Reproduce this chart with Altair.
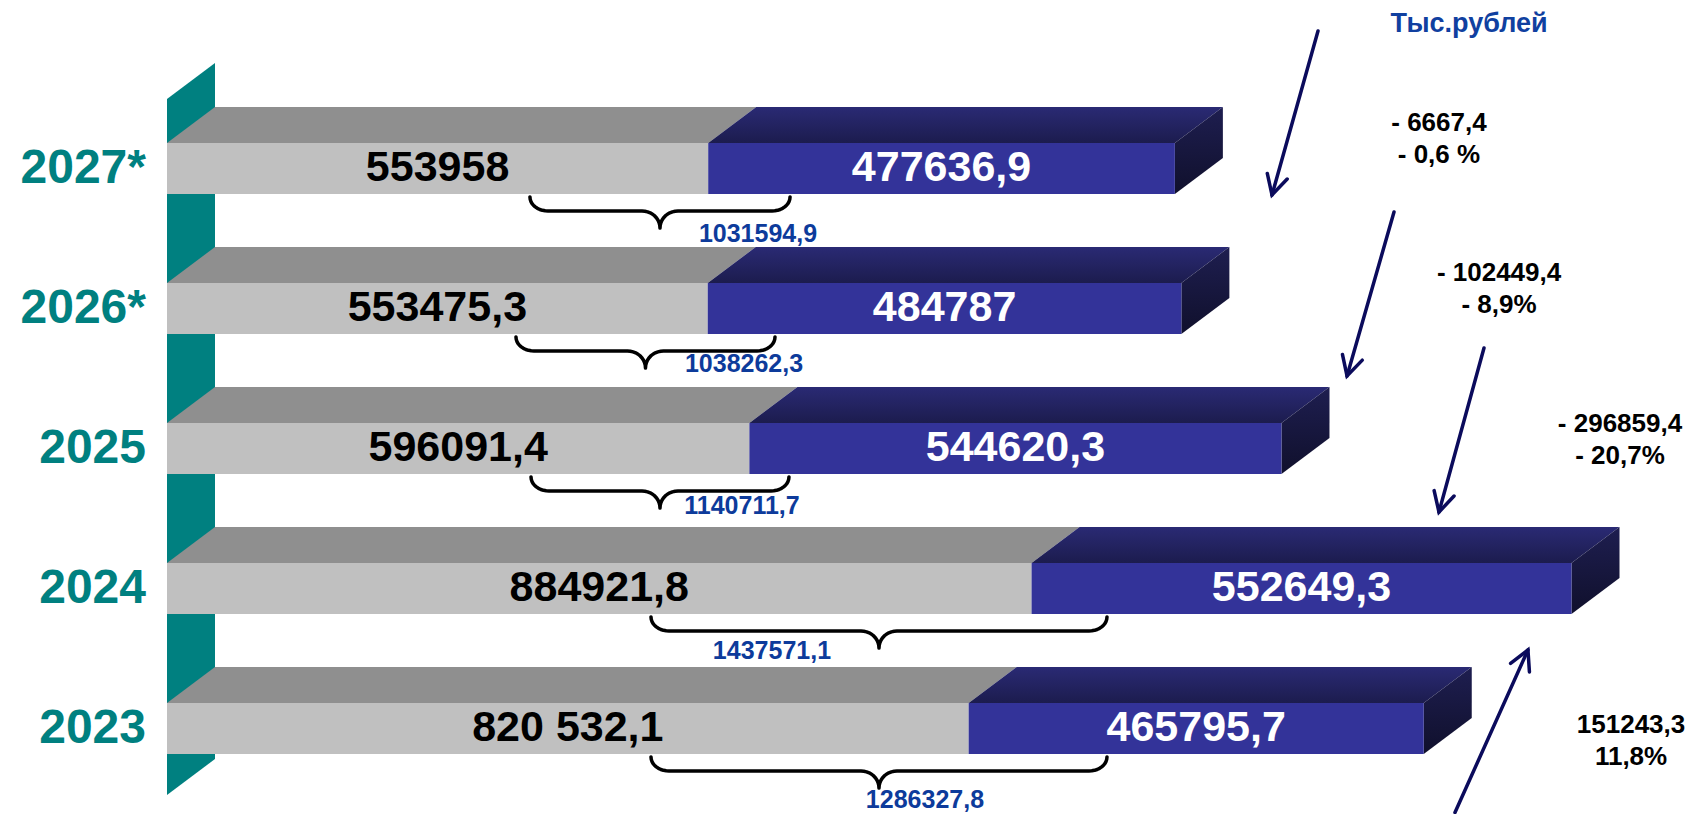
import math
import altair as alt
import pandas as pd

# ---------------- data ----------------
YEARS = ["2027*", "2026*", "2025", "2024", "2023"]
GRAY_VALUES = [553958.0, 553475.3, 596091.4, 884921.8, 820532.1]
BLUE_VALUES = [477636.9, 484787.0, 544620.3, 552649.3, 465795.7]
GRAY_LABELS = ["553958", "553475,3", "596091,4", "884921,8", "820 532,1"]
BLUE_LABELS = ["477636,9", "484787", "544620,3", "552649,3", "465795,7"]
TOTAL_LABELS = ["1031594,9", "1038262,3", "1140711,7", "1437571,1", "1286327,8"]
CHANGE_LABELS = ["- 6667,4\n- 0,6 %", "- 102449,4\n- 8,9%", "- 296859,4\n- 20,7%", "151243,3\n11,8%"]
UNIT_LABEL = "Тыс.рублей"

# annotation anchors (x in value units, y in row units)
BRACE_START = [371500, 357200, 372600, 495400, 495400]
BRACE_END = [637700, 622300, 636600, 962100, 962100]
TOTAL_X = [604900, 590600, 588500, 619200, 775800]
TOTAL_DY = [0.471, 0.396, 0.411, 0.446, 0.510]      # below each row centre
CHANGE_X = [1301900, 1363400, 1487200, 1498500]
CHANGE_Y = [-0.268, 0.804, 1.882, 4.032]
ARROW_FROM_X = [1178100, 1255900, 1348000, 1318300]
ARROW_FROM_Y = [-0.982, 0.311, 1.282, 4.600]
ARROW_TO_X = [1131000, 1207800, 1301900, 1393000]
ARROW_TO_Y = [0.189, 1.482, 2.454, 3.439]
UNIT_X, UNIT_Y = 1332700, -0.975
YEAR_X = -21500

# ---------------- geometry ----------------
K = 0.000977            # px per value unit
PLOT_W, PLOT_H = 1678, 806
X0_PX = 159.0           # plot x of value 0
ROW0_PX = 160.5         # plot y of first row centre
ROW_PX = 140.0          # row pitch
HALF = 25.5 / ROW_PX    # half height of front face
DX = 48 / K             # depth offset (x)
DY = 36 / ROW_PX        # depth offset (y, upwards)
WALL_TOP, WALL_BOT = -0.4964, 4.475

x_scale = alt.Scale(domain=[-X0_PX / K, (PLOT_W - X0_PX) / K], nice=False, zero=False)
y_scale = alt.Scale(domain=[-ROW0_PX / ROW_PX, (PLOT_H - ROW0_PX) / ROW_PX],
                    reverse=True, nice=False, zero=False)


def to_px(xv, yr):
    return X0_PX + xv * K, ROW0_PX + yr * ROW_PX


def from_px(px, py):
    return (px - X0_PX) / K, (py - ROW0_PX) / ROW_PX


def X(f):
    return alt.X(f, type="quantitative", scale=x_scale, axis=None)


def Y(f):
    return alt.Y(f, type="quantitative", scale=y_scale, axis=None)


FONT = "Liberation Sans"
GRAY_FRONT, GRAY_TOP = "#C0C0C0", "#8F8F8F"
BLUE_FRONT = "#333399"
TEAL = "#008080"
NAVY = "#0B0B5C"
TOTAL_BLUE = "#0D3B9B"

# ---------------- tables ----------------
fronts, tops, sides = [], [], []
for i in range(len(YEARS)):
    g, b = GRAY_VALUES[i], BLUE_VALUES[i]
    segs = [("g", 0.0, g, GRAY_FRONT), ("b", g, g + b, BLUE_FRONT)]
    for kind, a, e, col in segs:
        pid = f"{i}{kind}"
        fronts.append({"x": a, "x2": e, "y": i - HALF, "y2": i + HALF, "fill": col})
        tops.append({"id": pid, "kind": kind, "y": i - HALF, "x": a, "x2": e})
        tops.append({"id": pid, "kind": kind, "y": i - HALF - DY, "x": a + DX, "x2": e + DX})
    e = g + b
    sides.append({"id": i, "x": e, "y": i - HALF, "y2": i + HALF})
    sides.append({"id": i, "x": e + DX, "y": i - HALF - DY, "y2": i + HALF - DY})

fronts = pd.DataFrame(fronts)
tops = pd.DataFrame(tops)
sides = pd.DataFrame(sides)
wall = pd.DataFrame({"x": [0, DX], "y": [WALL_TOP, WALL_TOP - DY], "y2": [WALL_BOT, WALL_BOT - DY]})

bar_labels = pd.DataFrame({
    "x": [v / 2 for v in GRAY_VALUES] + [g + b / 2 for g, b in zip(GRAY_VALUES, BLUE_VALUES)],
    "y": list(range(5)) * 2,
    "t": GRAY_LABELS + BLUE_LABELS,
    "c": ["black"] * 5 + ["white"] * 5,
})
year_df = pd.DataFrame({"x": [YEAR_X] * 5, "y": list(range(5)), "t": YEARS})
total_df = pd.DataFrame({"x": TOTAL_X, "y": [i + d for i, d in enumerate(TOTAL_DY)], "t": TOTAL_LABELS})
change_df = pd.DataFrame({"x": CHANGE_X, "y": CHANGE_Y, "t": CHANGE_LABELS})
unit_df = pd.DataFrame({"x": [UNIT_X], "y": [UNIT_Y], "t": [UNIT_LABEL]})

# braces
brace_rows = []
for i in range(5):
    x0, _ = to_px(BRACE_START[i], 0)
    x1, _ = to_px(BRACE_END[i], 0)
    _, top = to_px(0, i + HALF)
    top += 3
    xm = (x0 + x1) / 2
    r, h1, r2, h2 = 18, 14, 18, 17
    pts = []
    n = 10
    for s in range(n + 1):
        t = s / n * math.pi / 2
        pts.append((x0 + r - r * math.cos(t), top + h1 * math.sin(t)))
    for s in range(n + 1):
        t = s / n * math.pi / 2
        pts.append((xm - r2 + r2 * math.sin(t), top + h1 + h2 - h2 * math.cos(t)))
    right = [(2 * xm - px, py) for px, py in reversed(pts)]
    pts = pts + right
    for k, (px, py) in enumerate(pts):
        xv, yv = from_px(px, py)
        brace_rows.append({"id": i, "o": k, "x": xv, "y": yv})
brace_df = pd.DataFrame(brace_rows)

# arrows
arrow_rows = []
for j in range(len(ARROW_FROM_X)):
    sx, sy = to_px(ARROW_FROM_X[j], ARROW_FROM_Y[j])
    tx, ty = to_px(ARROW_TO_X[j], ARROW_TO_Y[j])
    L = math.hypot(sx - tx, sy - ty)
    ux, uy = (sx - tx) / L, (sy - ty) / L
    arms = []
    for sgn in (-1, 1):
        a = math.radians(28) * sgn
        rx = ux * math.cos(a) - uy * math.sin(a)
        ry = ux * math.sin(a) + uy * math.cos(a)
        arms.append((tx + 22 * rx, ty + 22 * ry))
    shaft = [(sx, sy), (tx, ty)]
    head = [arms[0], (tx, ty), arms[1]]
    for part, pts in (("s", shaft), ("h", head)):
        for k, (px, py) in enumerate(pts):
            xv, yv = from_px(px, py)
            arrow_rows.append({"id": f"{j}{part}", "o": k, "x": xv, "y": yv})
arrow_df = pd.DataFrame(arrow_rows)

# ---------------- layers ----------------
wall_layer = alt.Chart(wall).mark_area(orient="vertical", color=TEAL).encode(
    x=X("x"), y=Y("y"), y2=alt.Y2("y2"))

gray_tops = alt.Chart(tops[tops.kind == "g"]).mark_area(orient="horizontal", color=GRAY_TOP).encode(
    y=Y("y"), x=X("x"), x2=alt.X2("x2"), detail="id:N")

blue_tops = alt.Chart(tops[tops.kind == "b"]).mark_area(
    orient="horizontal",
    color=alt.Gradient(gradient="linear", x1=0, y1=0, x2=0, y2=1,
                       stops=[alt.GradientStop(color="#2A2A74", offset=0),
                              alt.GradientStop(color="#1C1C4E", offset=1)])
).encode(y=Y("y"), x=X("x"), x2=alt.X2("x2"), detail="id:N")

side_layer = alt.Chart(sides).mark_area(
    orient="vertical",
    color=alt.Gradient(gradient="linear", x1=0, y1=0, x2=0, y2=1,
                       stops=[alt.GradientStop(color="#1E1E50", offset=0),
                              alt.GradientStop(color="#10102C", offset=1)])
).encode(x=X("x"), y=Y("y"), y2=alt.Y2("y2"), detail="id:N")

front_layer = alt.Chart(fronts).mark_rect().encode(
    x=X("x"), x2=alt.X2("x2"), y=Y("y"), y2=alt.Y2("y2"),
    color=alt.Color("fill:N", scale=None))

brace_layer = alt.Chart(brace_df).mark_line(color="black", strokeWidth=3.5, strokeCap="round",
                                            strokeJoin="round").encode(
    x=X("x"), y=Y("y"), detail="id:N", order="o:Q")

arrow_layer = alt.Chart(arrow_df).mark_line(color=NAVY, strokeWidth=3.5, strokeCap="round",
                                            strokeJoin="miter").encode(
    x=X("x"), y=Y("y"), detail="id:N", order="o:Q")

bar_text = alt.Chart(bar_labels).mark_text(font=FONT, fontWeight="bold", fontSize=43,
                                           align="center", baseline="middle", dy=-1).encode(
    x=X("x"), y=Y("y"), text="t:N", color=alt.Color("c:N", scale=None))

year_text = alt.Chart(year_df).mark_text(font=FONT, fontWeight="bold", fontSize=48, color=TEAL,
                                         align="right", baseline="middle").encode(
    x=X("x"), y=Y("y"), text="t:N")

total_text = alt.Chart(total_df).mark_text(font=FONT, fontWeight="bold", fontSize=25, color=TOTAL_BLUE,
                                           align="center", baseline="middle").encode(
    x=X("x"), y=Y("y"), text="t:N")

change_text = alt.Chart(change_df).mark_text(font=FONT, fontWeight="bold", fontSize=26, color="black",
                                             align="center", baseline="alphabetic",
                                             lineBreak="\n", lineHeight=32).encode(
    x=X("x"), y=Y("y"), text="t:N")

unit_text = alt.Chart(unit_df).mark_text(font=FONT, fontWeight="bold", fontSize=27, color="#1040A0",
                                         align="center", baseline="alphabetic").encode(
    x=X("x"), y=Y("y"), text="t:N")

chart = alt.layer(
    wall_layer, gray_tops, blue_tops, side_layer, front_layer,
    brace_layer, arrow_layer, bar_text, year_text, total_text, change_text, unit_text
).properties(
    width=PLOT_W, height=PLOT_H, padding=0,
    autosize=alt.AutoSizeParams(type="none"),
    background="white",
).configure_view(strokeWidth=0)

chart.save("out.html", embed_options={"renderer": "svg", "actions": False})
